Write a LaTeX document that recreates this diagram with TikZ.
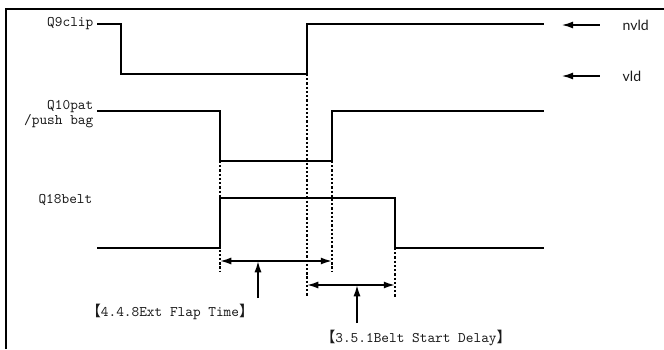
\documentclass[tikz,border=0pt]{standalone}
\usepackage{fontspec}
\newfontfamily\cjk{Noto Sans CJK SC}
\newfontfamily\sidefont{Lato}
\usetikzlibrary{arrows.meta}

\begin{document}
\begin{tikzpicture}[
    x=0.025cm, y=-0.025cm,
    every node/.style={font=\ttfamily\fontsize{10.4}{12}\selectfont, text=textcolor, inner sep=1pt},
    sig/.style={line width=1.5pt, line join=miter},
    guide/.style={line width=1pt, dash pattern=on 1.6pt off 1.4pt},
    dim/.style={line width=1.2pt, {Latex[length=8pt,width=5pt]}-{Latex[length=8pt,width=5pt]}},
    pointer/.style={line width=1.2pt, -{Latex[length=8pt,width=5pt]}},
]

\definecolor{textcolor}{HTML}{1A1A1A}

\useasboundingbox (0,0) rectangle (664,349);

% ================================================================
%   three signals, high/low levels in pixels of the sheet
%   Q9clip   24 / 74
%   Q10pat  111 / 161
%   Q18belt 198 / 248
% ================================================================

% ---------------------------------------------------------------- frame
\draw[line width=1.5pt] (6,349) -- (6,9) -- (664,9);

% ---------------------------------------------------------------- labels
\node[anchor=east] (q9) at (95,24) {Q9clip};
\node[anchor=east, align=right] (q10) at (95,114) {Q10pat\\[-1pt]/push bag};
\node[anchor=east] (q18) at (94,200) {Q18belt};

% ---------------------------------------------------------------- waves
\draw[sig] (97,24) -- (121,24) -- (121,74) -- (307,74) -- (307,24) -- (544,24);
\draw[sig] (97,111) -- (220,111) -- (220,161) -- (332,161) -- (332,111) -- (544,111);
\draw[sig] (97,248) -- (220,248) -- (220,198) -- (395,198) -- (395,248) -- (544,248);

% ---------------------------------------------------------------- edges
\coordinate (e1) at (220,161);
\coordinate (e2) at (307,74);
\coordinate (e3) at (332,161);
\coordinate (e4) at (395,248);
\coordinate (e1b) at (220,271);
\coordinate (e2b) at (307,296);
\coordinate (e3b) at (332,271);
\coordinate (e4b) at (395,298);
\foreach \a in {1,...,4} {
    \draw[guide] (e\a) -- (e\a b);
}

% ---------------------------------------------------------------- times
\coordinate (f1) at (220,261);
\coordinate (f2) at (332,261);
\coordinate (s1) at (307,285);
\coordinate (s2) at (395,285);
\draw[dim] (f1) -- (f2);
\draw[dim] (s1) -- (s2);

\node (flap) at (170,312) {{\cjk 【}4.4.8Ext Flap Time{\cjk 】}};
\node (belt) at (416,338) {{\cjk 【}3.5.1Belt Start Delay{\cjk 】}};

\coordinate (fp) at (258,261);
\coordinate (sp) at (357,285);
\draw[pointer] (258,298) -- (fp);
\draw[pointer] (357,323) -- (sp);

% ---------------------------------------------------------------- levels
\node[anchor=west, font=\sidefont\fontsize{10}{12}\selectfont] (nvld) at (621,25) {nvld};
\node[anchor=west, font=\sidefont\fontsize{10}{12}\selectfont] (vld) at (621,76) {vld};
\draw[pointer, line width=1pt] (nvld.west) ++(-15pt,0) -- ++(-38,0);
\draw[pointer, line width=1pt] (vld.west) ++(-15pt,0) -- ++(-38,0);

\end{tikzpicture}
\end{document}
